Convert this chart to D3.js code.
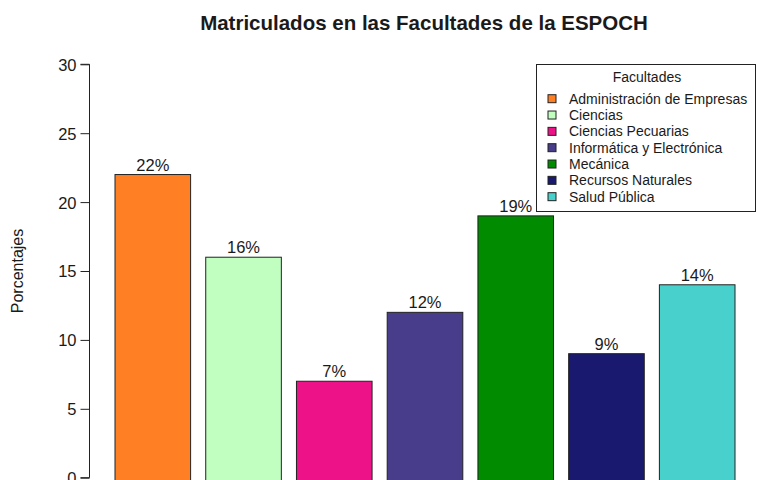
<!DOCTYPE html>
<html>
<head>
<meta charset="utf-8">
<script src="https://cdn.jsdelivr.net/npm/d3@7"></script>
<style>
  body { margin: 0; background: #fff; }
  text { font-family: "Liberation Sans", Arial, sans-serif; fill: #1a1a1a; }
</style>
</head>
<body>
<div class="chart"></div>
<script>
const width = 757;
const height = 480;

//Data
const facultades = ["Administración de Empresas", "Ciencias", "Ciencias Pecuarias",
                    "Informática y Electrónica", "Mecánica", "Recursos Naturales", "Salud Pública"];
const porcentajes = [22, 16, 7, 12, 19, 9, 14];
const colores = ["#FF7F24", "#C1FFC1", "#EE1289", "#483D8B", "#008B00", "#191970", "#48D1CC"];
const yTicks = [0, 5, 10, 15, 20, 25, 30];

var svg = d3.select(".chart")
            .append("svg")
            .attr("width", width)
            .attr("height", height)
            .style("background-color", "#FFFFFF");

//Scales
const xScale = d3.scaleBand()
                 .domain(facultades)
                 .range([115, 735])
                 .paddingInner(0.1667)
                 .paddingOuter(0);
const yScale = d3.scaleLinear()
                 .domain([0, 30])
                 .range([477.7, 64.3]);

//Y axis
const yAxis = d3.axisLeft(yScale).tickValues(yTicks).tickSize(9).tickPadding(4);
const gy = svg.append("g")
              .attr("transform", "translate(89.5, 0)")
              .call(yAxis);
gy.select(".domain").attr("stroke", "#222").attr("d", "M-9," + yScale(0) + "H0V" + yScale(30) + "H-9");
gy.selectAll(".tick line").attr("stroke", "#222");
gy.selectAll(".tick text")
  .style("font-size", "16.5px")
  .style("font-family", "Liberation Sans, Arial, sans-serif")
  .attr("fill", "#222")
  .attr("dy", "0.36em");

//Bars
svg.selectAll(".bar")
   .data(porcentajes)
   .enter()
   .append("rect")
   .attr("class", "bar")
   .attr("x", (d, i) => xScale(facultades[i]))
   .attr("y", d => yScale(d))
   .attr("width", xScale.bandwidth())
   .attr("height", d => yScale(0) - yScale(d) + 4)
   .attr("fill", (d, i) => colores[i])
   .attr("stroke", "#222")
   .attr("stroke-width", 1);

//Labels over bars
svg.selectAll(".lbl")
   .data(porcentajes)
   .enter()
   .append("text")
   .attr("class", "lbl")
   .attr("x", (d, i) => xScale(facultades[i]) + xScale.bandwidth() / 2)
   .attr("y", d => yScale(d) - 4)
   .attr("text-anchor", "middle")
   .style("font-size", "16.5px")
   .text(d => d + "%");

//Title
svg.append("text")
   .attr("x", 424)
   .attr("y", 30)
   .attr("text-anchor", "middle")
   .style("font-size", "20.5px")
   .style("font-weight", "bold")
   .attr("fill", "#000")
   .text("Matriculados en las Facultades de la ESPOCH");

//Y axis title
svg.append("text")
   .attr("transform", "translate(23, 271) rotate(-90)")
   .attr("text-anchor", "middle")
   .style("font-size", "16px")
   .text("Porcentajes");

//Legend
const legend = svg.append("g");
legend.append("rect")
      .attr("x", 536.5)
      .attr("y", 64.5)
      .attr("width", 219)
      .attr("height", 147)
      .attr("fill", "#fff")
      .attr("stroke", "#222");
legend.append("text")
      .attr("x", 647)
      .attr("y", 82)
      .attr("text-anchor", "middle")
      .style("font-size", "14px")
      .text("Facultades");
const rowY = i => 98.7 + i * 16.33;
legend.selectAll(".key")
      .data(facultades)
      .enter()
      .append("rect")
      .attr("class", "key")
      .attr("x", 548)
      .attr("y", (d, i) => rowY(i) - 4)
      .attr("width", 8)
      .attr("height", 8)
      .attr("fill", (d, i) => colores[i])
      .attr("stroke", "#222");
legend.selectAll(".ktxt")
      .data(facultades)
      .enter()
      .append("text")
      .attr("class", "ktxt")
      .attr("x", 569)
      .attr("y", (d, i) => rowY(i) + 5)
      .style("font-size", "14px")
      .text(d => d);
</script>
</body>
</html>
